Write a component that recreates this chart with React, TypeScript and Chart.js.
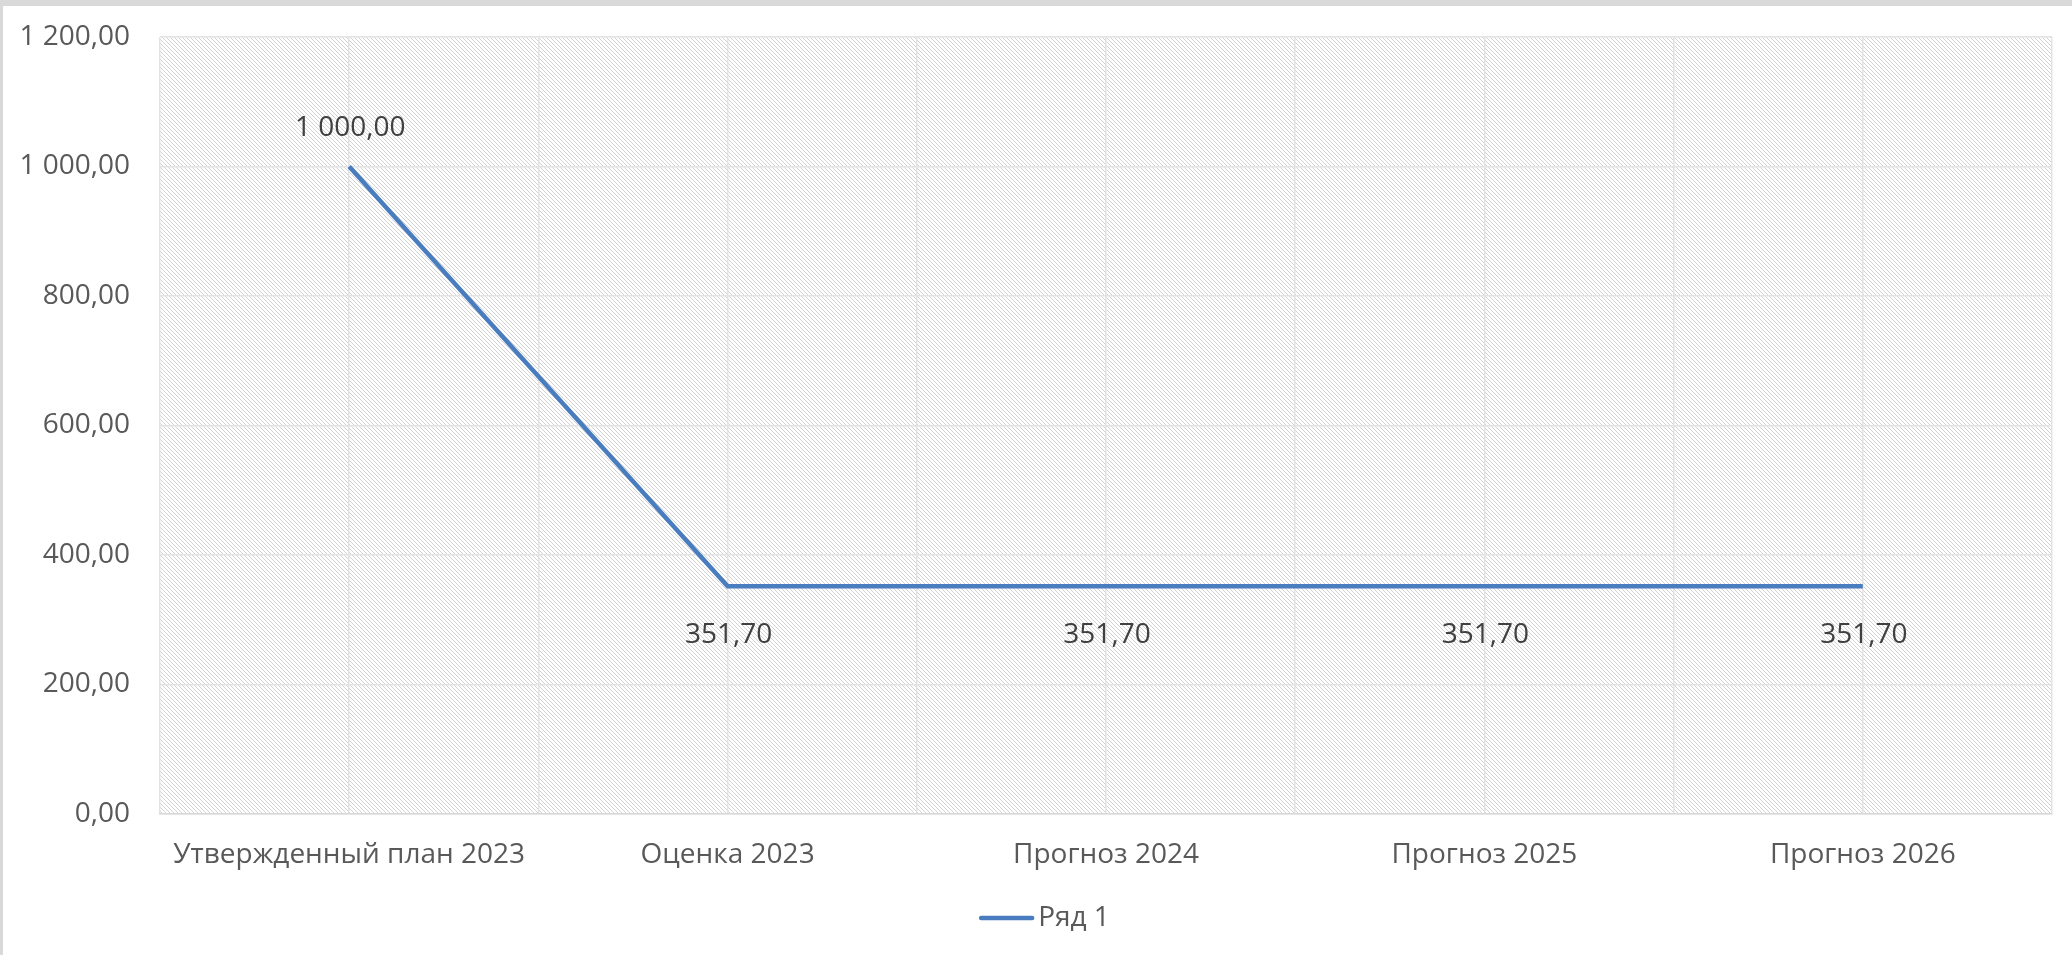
import React, { useEffect, useRef } from 'react';
import { Chart, registerables } from 'chart.js';

Chart.register(...registerables);

const categories: string[] = [
  'Утвержденный план 2023',
  'Оценка 2023',
  'Прогноз 2024',
  'Прогноз 2025',
  'Прогноз 2026',
];
const seriesName = 'Ряд 1';
const seriesValues: number[] = [1000, 351.7, 351.7, 351.7, 351.7];
const yMin = 0;
const yMax = 1200;
const yStep = 200;

const FONT = '"Open Sans", "Noto Sans", sans-serif';
const LINE_COLOR = '#4a7dbf';
const AXIS_TEXT = '#595959';
const LABEL_TEXT = '#404040';

function fmt(v: number): string {
  const fixed = Math.abs(v).toFixed(2);
  const [intPart, dec] = fixed.split('.');
  const grouped = intPart.replace(/\B(?=(\d{3})+(?!\d))/g, ' ');
  return (v < 0 ? '-' : '') + grouped + ',' + dec;
}

function makeHatch(ctx: CanvasRenderingContext2D): CanvasPattern | string {
  const c = document.createElement('canvas');
  c.width = 4;
  c.height = 4;
  const g = c.getContext('2d');
  if (!g) return '#f3f3f3';
  g.fillStyle = '#ffffff';
  g.fillRect(0, 0, 4, 4);
  g.fillStyle = '#d2d2d2';
  for (let i = 0; i < 4; i++) g.fillRect(i, i, 1, 1);
  return ctx.createPattern(c, 'repeat') || '#f3f3f3';
}

const hatchPlugin = {
  id: 'hatchBg',
  beforeDraw(chart: any) {
    const { ctx, chartArea } = chart;
    if (!chartArea) return;
    ctx.save();
    ctx.fillStyle = makeHatch(ctx);
    ctx.fillRect(chartArea.left, chartArea.top, chartArea.right - chartArea.left, chartArea.bottom - chartArea.top);
    ctx.restore();
  },
};

const dataLabelPlugin = {
  id: 'dataLabels',
  afterDatasetsDraw(chart: any) {
    const { ctx } = chart;
    const meta = chart.getDatasetMeta(0);
    const values: number[] = chart.data.datasets[0].data.map((p: any) => p.y);
    const maxV = Math.max(...values);
    ctx.save();
    ctx.font = `28px ${FONT}`;
    ctx.fillStyle = LABEL_TEXT;
    ctx.textAlign = 'center';
    ctx.textBaseline = 'middle';
    meta.data.forEach((pt: any, i: number) => {
      const v = values[i];
      const above = v === maxV;
      const y = above ? pt.y - 38 : pt.y + 49;
      ctx.fillText(fmt(v), pt.x + 1, y);
    });
    ctx.restore();
  },
};

const legendPlugin = {
  id: 'customLegend',
  afterDraw(chart: any) {
    const { ctx } = chart;
    const ds = chart.data.datasets[0];
    ctx.save();
    ctx.font = `28px ${FONT}`;
    const textW = ctx.measureText(ds.label).width;
    const lineW = 55;
    const gap = 4;
    const total = lineW + gap + textW;
    const cx = chart.width / 2 + 7;
    const x0 = cx - total / 2;
    const y = 912;
    ctx.strokeStyle = ds.borderColor;
    ctx.lineWidth = 4.5;
    ctx.lineCap = 'round';
    ctx.beginPath();
    ctx.moveTo(x0 + 2, y);
    ctx.lineTo(x0 + lineW - 2, y);
    ctx.stroke();
    ctx.fillStyle = AXIS_TEXT;
    ctx.textAlign = 'left';
    ctx.textBaseline = 'middle';
    ctx.fillText(ds.label, x0 + lineW + gap, y);
    ctx.restore();
  },
};

export default function App() {
  const canvasRef = useRef<HTMLCanvasElement | null>(null);

  useEffect(() => {
    const canvas = canvasRef.current;
    if (!canvas) return;
    const chart = new Chart(canvas, {
      type: 'line',
      data: {
        datasets: [
          {
            label: seriesName,
            data: seriesValues.map((v, i) => ({ x: i, y: v })),
            borderColor: LINE_COLOR,
            backgroundColor: LINE_COLOR,
            borderWidth: 4.5,
            pointRadius: 0,
            pointHoverRadius: 0,
            fill: false,
            tension: 0,
          },
        ],
      },
      options: {
        animation: false,
        responsive: true,
        maintainAspectRatio: false,
        layout: { padding: { top: 31, right: 20, bottom: 0, left: 0 } },
        plugins: {
          legend: { display: false },
          tooltip: { enabled: false },
        },
        scales: {
          x: {
            type: 'linear',
            min: -0.5,
            max: categories.length - 0.5,
            afterFit: (s: any) => {
              s.height = 141;
              s.paddingLeft = 0;
              s.paddingRight = 0;
            },
            ticks: {
              stepSize: 0.5,
              autoSkip: false,
              maxRotation: 0,
              minRotation: 0,
              padding: 24,
              color: AXIS_TEXT,
              font: { family: FONT, size: 28 },
              callback: (value: any) => {
                const v = Number(value);
                const r = Math.round(v);
                return Math.abs(v - r) < 1e-6 && r >= 0 && r < categories.length ? categories[r] : '';
              },
            },
            grid: { color: '#e3e3e3', lineWidth: 1.5, drawTicks: false },
            border: { display: true, color: '#d9d9d9', width: 1.5 },
          },
          y: {
            type: 'linear',
            min: yMin,
            max: yMax,
            afterFit: (s: any) => {
              s.width = 157;
              s.paddingTop = 0;
              s.paddingBottom = 0;
            },
            ticks: {
              stepSize: yStep,
              padding: 30,
              color: AXIS_TEXT,
              font: { family: FONT, size: 28 },
              callback: (value: any) => fmt(Number(value)),
            },
            grid: { color: '#e3e3e3', lineWidth: 1.5, drawTicks: false },
            border: { display: false },
          },
        },
      },
      plugins: [hatchPlugin, dataLabelPlugin, legendPlugin],
    } as any);
    return () => chart.destroy();
  }, []);

  return (
    <div style={{ position: 'fixed', left: 0, top: 0, width: 2072, height: 955, background: '#d9d9d9' }}>
      <div style={{ position: 'absolute', left: 3, top: 6, width: 2069, height: 949, background: '#ffffff' }}>
        <canvas ref={canvasRef} />
      </div>
    </div>
  );
}
